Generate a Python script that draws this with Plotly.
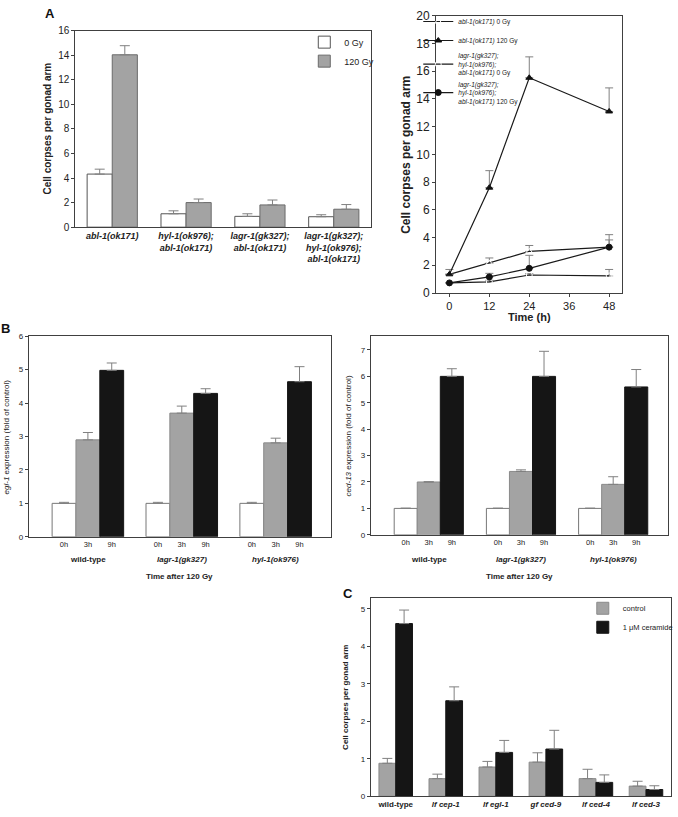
import plotly.graph_objects as go

W, H = 678, 817
FONT = "Liberation Sans, Arial, sans-serif"

# ---------------- Panel A (left): bar chart ----------------
a_cats = [["abl-1(ok171)"],
          ["hyl-1(ok976);", "abl-1(ok171)"],
          ["lagr-1(gk327);", "abl-1(ok171)"],
          ["lagr-1(gk327);", "hyl-1(ok976);", "abl-1(ok171)"]]
a_series = ["0 Gy", "120 Gy"]
a_0gy = [4.32, 1.09, 0.88, 0.85]
a_0gy_err = [0.40, 0.24, 0.21, 0.16]
a_120gy = [14.03, 2.0, 1.81, 1.46]
a_120gy_err = [0.74, 0.29, 0.40, 0.38]

# ---------------- Panel A (right): time course ----------------
t_hours = [0, 12, 24, 48]
t_names = ["abl-1(ok171) 0 Gy", "abl-1(ok171) 120 Gy",
           "lagr-1(gk327);|hyl-1(ok976);|abl-1(ok171) 0 Gy",
           "lagr-1(gk327);|hyl-1(ok976);|abl-1(ok171) 120 Gy"]
t_abl_0 = [1.35, 2.15, 3.0, 3.31]
t_abl_0_err = [0.35, 0.38, 0.43, 0.9]
t_abl_120 = [1.35, 7.6, 15.53, 13.1]
t_abl_120_err = [0.0, 1.23, 1.51, 1.7]
t_tri_0 = [0.73, 0.8, 1.3, 1.23]
t_tri_0_err = [0.0, 0.12, 0.1, 0.47]
t_tri_120 = [0.73, 1.16, 1.78, 3.31]
t_tri_120_err = [0.0, 0.26, 0.94, 0.52]

# ---------------- Panel B: expression ----------------
b_groups = ["wild-type", "lagr-1(gk327)", "hyl-1(ok976)"]
b_group_italic = [False, True, True]
b_times = ["0h", "3h", "9h"]
egl_0h = [1.0, 1.0, 1.0]
egl_0h_err = [0.03, 0.03, 0.03]
egl_3h = [2.90, 3.70, 2.81]
egl_3h_err = [0.22, 0.21, 0.14]
egl_9h = [4.98, 4.29, 4.64]
egl_9h_err = [0.22, 0.14, 0.45]
ced13_0h = [1.0, 1.0, 1.0]
ced13_0h_err = [0.01, 0.01, 0.01]
ced13_3h = [2.0, 2.4, 1.91]
ced13_3h_err = [0.01, 0.06, 0.29]
ced13_9h = [6.0, 6.0, 5.6]
ced13_9h_err = [0.29, 0.95, 0.66]

# ---------------- Panel C: ceramide ----------------
c_cats = [("", "wild-type"), ("lf", "cep-1"), ("lf", "egl-1"),
          ("gf", "ced-9"), ("lf", "ced-4"), ("lf", "ced-3")]
c_series = ["control", "1 \u03bcM ceramide"]
c_control = [0.88, 0.47, 0.78, 0.91, 0.47, 0.27]
c_control_err = [0.13, 0.12, 0.15, 0.25, 0.25, 0.13]
c_ceramide = [4.61, 2.55, 1.17, 1.26, 0.37, 0.18]
c_ceramide_err = [0.36, 0.37, 0.32, 0.50, 0.20, 0.10]

WHITE, GRAY, BLACK = "#ffffff", "#a3a3a3", "#151515"
ERRC = "#808080"
LINEC = "#404040"


def bi(lines):
    return "<br>".join("<b><i>%s</i></b>" % s for s in lines)


def px_x(a, b):
    return [a / W, b / W]


def px_y(top, bottom):
    return [1 - bottom / H, 1 - top / H]


fig = go.Figure()


def add_bars(vals, errs, name, color, outline, xa, ya, n, k, width, legend=None):
    x = list(range(len(vals)))
    fig.add_trace(go.Bar(
        x=x, y=vals, name=name, xaxis=xa, yaxis=ya,
        width=width, offset=-width * n / 2 + k * width,
        marker=dict(color=color, line=dict(color=outline, width=1)),
        error_y=dict(type="data", symmetric=False, array=errs,
                     arrayminus=[0] * len(errs), color=ERRC,
                     thickness=1, width=5),
        showlegend=legend is not None, legend=legend or "legend"))


# Panel A left
add_bars(a_0gy, a_0gy_err, a_series[0], WHITE, "#555555", "x", "y", 2, 0, 0.34, "legend")
add_bars(a_120gy, a_120gy_err, a_series[1], GRAY, "#6a6a6a", "x", "y", 2, 1, 0.34, "legend")


# Panel A right
def leg_name(s):
    out = []
    for p in s.split("|"):
        if p.endswith("Gy"):
            words = p.split(" ")
            out.append("<i>%s</i> %s" % (words[0], " ".join(words[1:])))
        else:
            out.append("<i>%s</i>" % p)
    return "<br>".join(out)


line_specs = [
    (t_abl_0, t_abl_0_err, "triangle-up-open"),
    (t_abl_120, t_abl_120_err, "triangle-up"),
    (t_tri_0, t_tri_0_err, "circle-open"),
    (t_tri_120, t_tri_120_err, "circle"),
]
for (vals, errs, sym), nm in zip(line_specs, t_names):
    fig.add_trace(go.Scatter(
        x=t_hours, y=vals, name=leg_name(nm), xaxis="x2", yaxis="y2",
        mode="lines+markers",
        line=dict(color="#1a1a1a", width=1.2),
        marker=dict(symbol=sym, size=6,
                    color="#111111" if "open" not in sym else "#ffffff",
                    line=dict(color="#111111", width=1)),
        error_y=dict(type="data", symmetric=False, array=errs,
                     arrayminus=[0] * len(errs), color=ERRC, thickness=1, width=4),
        legend="legend2"))

# Panel B
for k, (v, e, c, oc) in enumerate([(egl_0h, egl_0h_err, WHITE, "#777777"),
                                   (egl_3h, egl_3h_err, GRAY, "#8a8a8a"),
                                   (egl_9h, egl_9h_err, BLACK, BLACK)]):
    add_bars(v, e, b_times[k], c, oc, "x3", "y3", 3, k, 0.254)
for k, (v, e, c, oc) in enumerate([(ced13_0h, ced13_0h_err, WHITE, "#777777"),
                                   (ced13_3h, ced13_3h_err, GRAY, "#8a8a8a"),
                                   (ced13_9h, ced13_9h_err, BLACK, BLACK)]):
    add_bars(v, e, b_times[k], c, oc, "x4", "y4", 3, k, 0.25)

# Panel C
add_bars(c_control, c_control_err, c_series[0], GRAY, "#8a8a8a", "x5", "y5", 2, 0, 0.335, "legend3")
add_bars(c_ceramide, c_ceramide_err, c_series[1], BLACK, BLACK, "x5", "y5", 2, 1, 0.335, "legend3")

axis_common = dict(showline=True, linecolor=LINEC, linewidth=1, mirror=True,
                   showgrid=False, zeroline=False, ticks="outside", ticklen=3,
                   tickcolor=LINEC, tickfont=dict(family=FONT, color="#222222"))


def ax(**kw):
    d = dict(axis_common)
    d.update(kw)
    return d


b_tickvals = [g - 0.254 + 0.254 * k for g in range(3) for k in range(3)]
b4_tickvals = [g - 0.25 + 0.25 * k for g in range(3) for k in range(3)]
b_ticktext = [t for g in range(3) for t in b_times]

fig.update_layout(
    width=W, height=H, margin=dict(l=0, r=0, t=0, b=0),
    paper_bgcolor="white", plot_bgcolor="white",
    barmode="overlay", font=dict(family=FONT, color="#222222"),
    xaxis=ax(domain=px_x(76, 374), anchor="y", range=[-0.5, 3.5],
             tickvals=list(range(4)), ticktext=[bi(c) for c in a_cats],
             ticks="", tickfont=dict(family=FONT, size=9, color="#222222")),
    yaxis=ax(domain=px_y(24, 224), anchor="x", range=[0, 16], dtick=2,
             tickfont=dict(family=FONT, size=10, color="#222222")),
    xaxis2=ax(domain=px_x(440, 628), anchor="y2", range=[-4, 52],
              tickvals=[0, 12, 24, 36, 48], ticklen=3,
              tickfont=dict(family=FONT, size=11, color="#222222")),
    yaxis2=ax(domain=px_y(9, 291), anchor="x2", range=[0, 20], dtick=2,
              tickfont=dict(family=FONT, size=12, color="#222222")),
    xaxis3=ax(domain=px_x(29, 334), anchor="y3", range=[-0.63, 2.59],
              tickvals=b_tickvals, ticktext=b_ticktext, ticks="",
              tickfont=dict(family=FONT, size=7.5, color="#222222")),
    yaxis3=ax(domain=px_y(335, 539), anchor="x3", range=[0, 6.0], dtick=1,
              tickfont=dict(family=FONT, size=8, color="#222222")),
    xaxis4=ax(domain=px_x(374, 674), anchor="y4", range=[-0.63, 2.595],
              tickvals=b4_tickvals, ticktext=b_ticktext, ticks="",
              tickfont=dict(family=FONT, size=7.5, color="#222222")),
    yaxis4=ax(domain=px_y(335, 537), anchor="x4", range=[0, 7.52], dtick=1,
              tickfont=dict(family=FONT, size=8, color="#222222")),
    xaxis5=ax(domain=px_x(374, 677), anchor="y5", range=[-0.5, 5.5],
              tickvals=list(range(6)),
              ticktext=["<b>%s</b>" % n if not p else "<b><i>%s %s</i></b>" % (p, n)
                        for p, n in c_cats],
              ticks="", tickfont=dict(family=FONT, size=8, color="#222222")),
    yaxis5=ax(domain=px_y(601, 803), anchor="x5", range=[0, 5.3], dtick=1,
              tickfont=dict(family=FONT, size=8, color="#222222")),
    legend=dict(x=307 / W, y=1 - 21 / H, xanchor="left", yanchor="top",
                font=dict(family=FONT, size=9, color="#222222"),
                bgcolor="rgba(0,0,0,0)", itemwidth=30, tracegroupgap=0),
    legend2=dict(x=422 / W, y=1 - 0 / H, xanchor="left", yanchor="top",
                 font=dict(family=FONT, size=6.5, color="#222222"),
                 bgcolor="rgba(0,0,0,0)", itemwidth=30),
    legend3=dict(x=588 / W, y=1 - 597 / H, xanchor="left", yanchor="top",
                 font=dict(family=FONT, size=7.5, color="#222222"),
                 bgcolor="rgba(0,0,0,0)", itemwidth=30),
)

ann = []


def add_ann(text, x, y, size, angle=0, xref="paper", color="#222222"):
    ann.append(dict(text=text, x=x, y=y, xref=xref, yref="paper", textangle=angle,
                    showarrow=False, xanchor="center", yanchor="middle",
                    font=dict(family=FONT, size=size, color=color)))


for letter, x, y in [("A", 50, 7), ("B", 6, 327), ("C", 351, 597)]:
    add_ann("<b>%s</b>" % letter, x / W, 1 - y / H, 13, color="#111111")
for text, x, yc, size in [("<b>Cell corpses per gonad arm</b>", 48, 124, 10),
                          ("<b>Cell corpses per gonad arm</b>", 410, 150, 12),
                          ("<i>egl-1</i> expression (fold of control)", 7, 437, 8),
                          ("<i>ced-13</i> expression (fold of control)", 352, 436, 8),
                          ("<b>Cell corpses per gonad arm</b>", 349, 702, 8)]:
    add_ann(text, x / W, 1 - yc / H, size, angle=-90)
add_ann("<b>Time (h)</b>", 534 / W, 1 - 315 / H, 11)
for xa, xc in [("x3", 181), ("x4", 524)]:
    add_ann("<b>Time after 120 Gy</b>", xc / W, 1 - 579 / H, 8)
    for g, (name, it) in enumerate(zip(b_groups, b_group_italic)):
        txt = "<b><i>%s</i></b>" % name if it else "<b>%s</b>" % name
        add_ann(txt, g, 1 - 562 / H, 8, xref=xa)
fig.update_layout(annotations=ann)

fig.write_html("out.html", config={"displayModeBar": False},
               post_script="document.body.style.margin='0';document.body.style.overflow='hidden';")
